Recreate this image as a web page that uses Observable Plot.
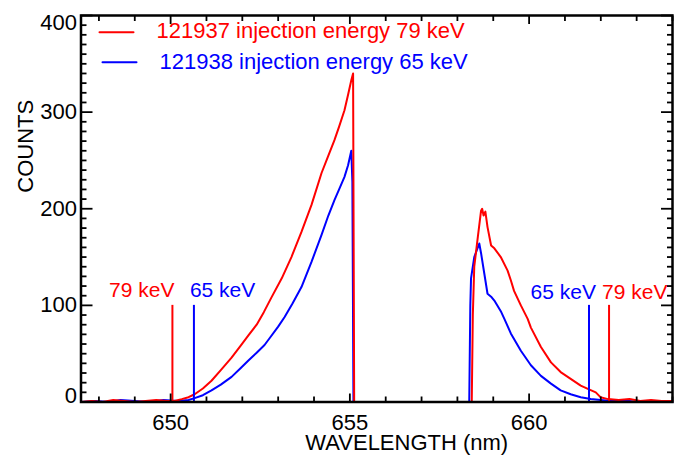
<!DOCTYPE html>
<html>
<head>
<meta charset="utf-8">
<script src="https://cdn.jsdelivr.net/npm/d3@7"></script>
<script src="https://cdn.jsdelivr.net/npm/@observablehq/plot@0.6"></script>
<style>
  html, body { margin: 0; padding: 0; background: #fff; }
  #chart { width: 686px; height: 457px; }
</style>
</head>
<body>
<div id="chart"></div>
<script>
// ---- data ----
const redWavelength = [647.50,647.80,648.10,648.40,648.70,649.00,649.30,649.60,649.90,650.10,650.31,650.50,650.67,650.90,651.14,651.40,651.70,651.95,652.17,652.40,652.60,652.81,653.10,653.37,653.65,653.93,654.21,654.40,654.57,654.70,654.85,654.95,655.04,655.09,655.12,655.50,656.00,656.50,657.00,657.50,658.00,658.40,658.43,658.47,658.57,658.66,658.69,658.73,658.78,658.84,658.94,659.03,659.21,659.40,659.49,659.58,659.77,659.96,660.05,660.33,660.61,660.88,661.16,661.44,661.67,661.86,661.99,662.20,662.50,662.80,663.10,663.40,663.70,664.00];
const redCounts = [0,1,0,2,1,0,1,2,1,1,3,5,8,14,22,33,46,58,69,80,93,108,128,150,176,204,237,255,271,285,302,318,333,340,0,0,0,0,0,0,0,0,90,140,171,198,200,193,197,181,162,159,150,136,126,115,100,86,77,57,41,31,24,17,13,10,5,3,2,3,1,2,1,1];

const blueWavelength = [647.50,647.90,648.30,648.60,649.00,649.40,649.80,650.20,650.50,650.67,650.90,651.14,651.40,651.70,651.95,652.17,652.40,652.62,652.76,653.00,653.18,653.40,653.65,653.93,654.21,654.40,654.57,654.70,654.85,654.95,655.04,655.07,655.10,655.50,656.00,656.50,657.00,657.50,658.00,658.33,658.36,658.38,658.47,658.57,658.61,658.66,658.75,658.84,658.94,659.03,659.21,659.31,659.49,659.77,660.05,660.33,660.61,660.88,661.16,661.44,661.72,662.00,662.30,662.60,663.00,663.40,663.80,664.00];
const blueCounts = [0,1,0,2,1,0,2,1,2,4,7,12,18,26,35,43,51,59,66,78,88,102,119,145,173,193,209,220,233,245,260,228,0,0,0,0,0,0,0,0,100,128,150,160,164,154,133,112,109,105,94,86,71,53,38,27,19,12,8,5,3,2,1,2,0,1,1,0];

const seriesNames = ["121937 injection energy 79 keV", "121938 injection energy 65 keV"];
const seriesColors = ["#ff0000", "#0000ff"];

const markerLabels = ["79 keV", "65 keV", "65 keV", "79 keV"];
const markerWavelength = [650.05, 650.65, 661.67, 662.23];
const markerCounts = [100, 100, 100, 100];
const markerSeries = [0, 1, 1, 0];

const xTickValues = [650, 655, 660];
const yTickValues = [0, 100, 200, 300, 400];
const xTitle = "WAVELENGTH (nm)";
const yTitle = "COUNTS";

// ---- build tables ----
const red = redWavelength.map((w, i) => ({w, c: redCounts[i]}));
const blue = blueWavelength.map((w, i) => ({w, c: blueCounts[i]}));
const markers = markerWavelength.map((w, i) => ({
  w, c: markerCounts[i], label: markerLabels[i], color: seriesColors[markerSeries[i]]
}));

const xMinor = d3.range(648, 664.001, 1).filter(v => !xTickValues.includes(v));
const yMinor = d3.range(0, 400.001, 10).filter(v => !yTickValues.includes(v));

const font = "'Liberation Sans', Arial, Helvetica, sans-serif";
const tickW = 1.8;
const lineShape = {draw(context, l) { context.moveTo(0, 0); context.lineTo(0, -l); }};

// placement of the keV labels relative to their markers
const markerTextStyle = [
  {textAnchor: "end", dx: 2, dy: -15},
  {textAnchor: "start", dx: -4, dy: -15},
  {textAnchor: "end", dx: 7, dy: -13},
  {textAnchor: "start", dx: -7, dy: -13}
];

const chart = Plot.plot({
  width: 686,
  height: 457,
  marginLeft: 80.5,
  marginRight: 14,
  marginTop: 15,
  marginBottom: 55.5,
  x: {domain: [647.5, 664], axis: null},
  y: {domain: [0, 400], axis: null},
  style: {fontFamily: font, fontSize: "22px", background: "#fff", color: "#000", overflow: "visible"},
  marks: [
    // data
    Plot.line(blue, {x: "w", y: "c", stroke: seriesColors[1], strokeWidth: 2, strokeLinejoin: "round"}),
    Plot.line(red, {x: "w", y: "c", stroke: seriesColors[0], strokeWidth: 2, strokeLinejoin: "round"}),
    // energy markers
    Plot.ruleX(markers, {x: "w", y1: 0, y2: "c", stroke: "color", strokeWidth: 2}),
    ...markers.map((m, i) => Plot.text([m], {
      x: "w", y: "c", text: "label", fill: "color", fontSize: 21,
      lineAnchor: "middle", ...markerTextStyle[i]
    })),
    // inward ticks, bottom & top
    Plot.axisX({anchor: "bottom", ticks: xTickValues, tickSize: 8, dy: -8, tickFormat: () => "", label: null, strokeWidth: tickW}),
    Plot.axisX({anchor: "bottom", ticks: xMinor, tickSize: 5, dy: -5, tickFormat: () => "", label: null, strokeWidth: tickW}),
    Plot.axisX({anchor: "top", ticks: xTickValues, tickSize: 8, dy: 8, tickFormat: () => "", label: null, strokeWidth: tickW}),
    Plot.axisX({anchor: "top", ticks: xMinor, tickSize: 5, dy: 5, tickFormat: () => "", label: null, strokeWidth: tickW}),
    // inward ticks, left & right
    Plot.axisY({anchor: "left", ticks: yTickValues, tickSize: 12, dx: 12, tickFormat: () => "", label: null, strokeWidth: tickW}),
    Plot.axisY({anchor: "left", ticks: yMinor, tickSize: 6, dx: 6, tickFormat: () => "", label: null, strokeWidth: tickW}),
    Plot.axisY({anchor: "right", ticks: yTickValues, tickSize: 12, dx: -12, tickFormat: () => "", label: null, strokeWidth: tickW}),
    Plot.axisY({anchor: "right", ticks: yMinor, tickSize: 6, dx: -6, tickFormat: () => "", label: null, strokeWidth: tickW}),
    // tick labels
    Plot.axisX({anchor: "bottom", ticks: xTickValues, tickSize: 0, tickPadding: 12, label: null, fontSize: 22, fill: "#000"}),
    Plot.axisY({anchor: "left", ticks: yTickValues.slice(1, 4), tickSize: 0, tickPadding: 4, label: null, fontSize: 22, fill: "#000"}),
    Plot.axisY({anchor: "left", ticks: [yTickValues[0]], tickSize: 0, tickPadding: 4, dy: -6, label: null, fontSize: 22, fill: "#000"}),
    Plot.axisY({anchor: "left", ticks: [yTickValues[4]], tickSize: 0, tickPadding: 4, dy: 7, label: null, fontSize: 22, fill: "#000"}),
    // axis titles
    Plot.text([xTitle], {frameAnchor: "bottom", dx: 30, dy: 40.5, fontSize: 22, fill: "#000", lineAnchor: "middle"}),
    Plot.text([yTitle], {frameAnchor: "left", dx: -55, dy: -16, rotate: -90, fontSize: 22, fill: "#000", lineAnchor: "middle"}),
    // legend
    Plot.vector([0], {frameAnchor: "top-left", dx: 18.5, dy: 16.7, length: 34, rotate: 90, anchor: "start", shape: lineShape, stroke: seriesColors[0], strokeWidth: 2}),
    Plot.vector([0], {frameAnchor: "top-left", dx: 21.5, dy: 46.7, length: 34, rotate: 90, anchor: "start", shape: lineShape, stroke: seriesColors[1], strokeWidth: 2}),
    Plot.text([seriesNames[0]], {frameAnchor: "top-left", dx: 75.5, dy: 15, textAnchor: "start", lineAnchor: "middle", fontSize: 22, fill: seriesColors[0]}),
    Plot.text([seriesNames[1]], {frameAnchor: "top-left", dx: 78.5, dy: 46, textAnchor: "start", lineAnchor: "middle", fontSize: 22, fill: seriesColors[1]}),
    // frame
    Plot.frame({stroke: "#000", strokeWidth: 2.5})
  ]
});

document.getElementById("chart").appendChild(chart);
</script>
</body>
</html>
